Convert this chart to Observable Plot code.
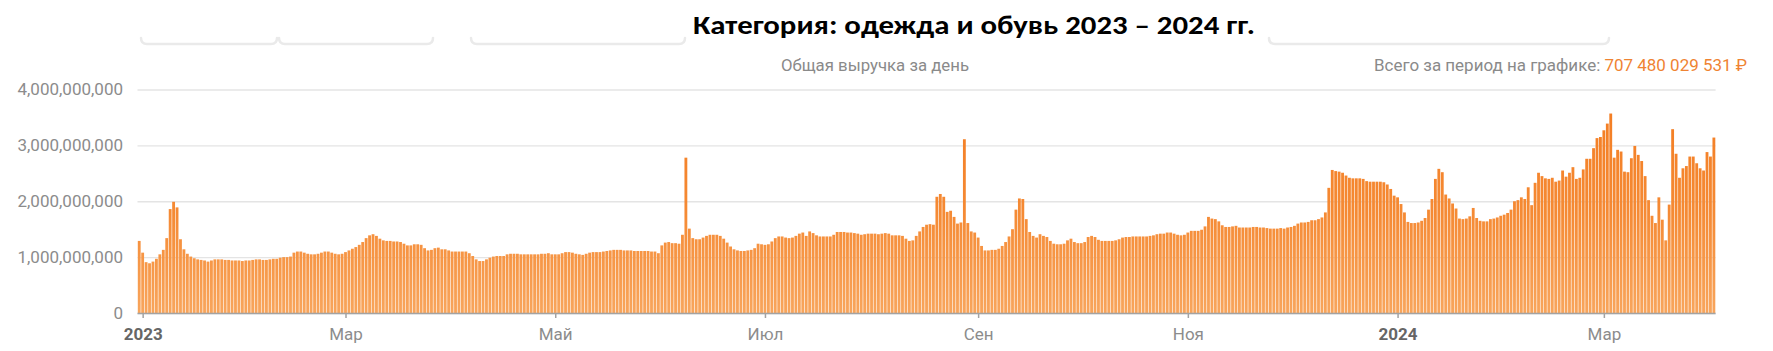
<!DOCTYPE html>
<html>
<head>
<meta charset="utf-8">
<script src="https://cdn.jsdelivr.net/npm/d3@7"></script>
<script src="https://cdn.jsdelivr.net/npm/@observablehq/plot@0.6"></script>
<style>
html, body { margin: 0; padding: 0; background: #ffffff; }
#chart { position: relative; width: 1773px; height: 351px; overflow: hidden; background: #fff; }
#chart svg { position: absolute; left: 0; top: 0; }
</style>
</head>
<body>
<div id="chart"></div>
<script>
// ---- Data (daily revenue, billions of rubles), first day = 2022-12-31 ----
const startDate = "2022-12-31";
const revenueBn = [
  1.29, 1.08, 0.91, 0.89, 0.92, 0.97, 1.05, 1.13, 1.34, 1.86,
  1.99, 1.89, 1.32, 1.14, 1.06, 1.01, 0.98, 0.96, 0.95, 0.94,
  0.92, 0.94, 0.96, 0.96, 0.96, 0.95, 0.95, 0.94, 0.94, 0.94,
  0.93, 0.94, 0.94, 0.95, 0.96, 0.96, 0.95, 0.95, 0.96, 0.97,
  0.97, 0.99, 1.00, 1.00, 1.01, 1.08, 1.10, 1.10, 1.08, 1.06,
  1.05, 1.05, 1.06, 1.08, 1.10, 1.10, 1.08, 1.06, 1.05, 1.06,
  1.09, 1.12, 1.15, 1.18, 1.22, 1.27, 1.34, 1.39, 1.41, 1.38,
  1.33, 1.30, 1.29, 1.29, 1.28, 1.28, 1.27, 1.24, 1.21, 1.21,
  1.23, 1.23, 1.22, 1.16, 1.12, 1.13, 1.16, 1.17, 1.14, 1.14,
  1.12, 1.10, 1.10, 1.10, 1.10, 1.10, 1.07, 1.02, 0.96, 0.93,
  0.93, 0.96, 0.99, 1.01, 1.02, 1.02, 1.02, 1.05, 1.06, 1.06,
  1.06, 1.05, 1.05, 1.05, 1.05, 1.05, 1.05, 1.06, 1.06, 1.07,
  1.05, 1.05, 1.05, 1.07, 1.09, 1.09, 1.08, 1.06, 1.05, 1.04,
  1.06, 1.08, 1.09, 1.09, 1.09, 1.10, 1.11, 1.12, 1.13, 1.13,
  1.13, 1.12, 1.12, 1.12, 1.11, 1.11, 1.11, 1.11, 1.11, 1.10,
  1.10, 1.07, 1.21, 1.26, 1.27, 1.25, 1.25, 1.24, 1.40, 2.78,
  1.51, 1.34, 1.32, 1.32, 1.35, 1.38, 1.40, 1.40, 1.40, 1.38,
  1.33, 1.26, 1.19, 1.14, 1.12, 1.11, 1.11, 1.12, 1.13, 1.16,
  1.24, 1.23, 1.22, 1.23, 1.28, 1.34, 1.37, 1.37, 1.35, 1.34,
  1.35, 1.38, 1.42, 1.44, 1.38, 1.46, 1.43, 1.39, 1.37, 1.37,
  1.37, 1.37, 1.40, 1.45, 1.45, 1.45, 1.44, 1.44, 1.43, 1.42,
  1.40, 1.41, 1.42, 1.42, 1.42, 1.41, 1.42, 1.43, 1.42, 1.39,
  1.39, 1.39, 1.38, 1.33, 1.29, 1.30, 1.38, 1.46, 1.54, 1.58,
  1.59, 1.58, 2.08, 2.13, 2.08, 1.81, 1.83, 1.72, 1.60, 1.62,
  3.11, 1.61, 1.46, 1.44, 1.35, 1.20, 1.12, 1.12, 1.13, 1.13,
  1.15, 1.20, 1.27, 1.37, 1.50, 1.85, 2.05, 2.04, 1.68, 1.45,
  1.38, 1.35, 1.41, 1.38, 1.36, 1.29, 1.24, 1.23, 1.23, 1.24,
  1.30, 1.33, 1.27, 1.25, 1.25, 1.27, 1.36, 1.38, 1.36, 1.31,
  1.29, 1.29, 1.29, 1.29, 1.30, 1.32, 1.35, 1.36, 1.36, 1.37,
  1.37, 1.37, 1.37, 1.37, 1.38, 1.39, 1.41, 1.42, 1.42, 1.44,
  1.44, 1.42, 1.40, 1.39, 1.40, 1.44, 1.47, 1.47, 1.47, 1.49,
  1.55, 1.72, 1.69, 1.68, 1.64, 1.57, 1.54, 1.54, 1.55, 1.56,
  1.53, 1.53, 1.53, 1.53, 1.54, 1.54, 1.53, 1.53, 1.52, 1.51,
  1.51, 1.51, 1.52, 1.51, 1.53, 1.54, 1.56, 1.60, 1.62, 1.62,
  1.63, 1.66, 1.66, 1.68, 1.71, 1.80, 2.24, 2.56, 2.54, 2.53,
  2.51, 2.46, 2.42, 2.41, 2.41, 2.41, 2.40, 2.36, 2.35, 2.35,
  2.35, 2.35, 2.34, 2.30, 2.22, 2.10, 2.07, 1.95, 1.80, 1.63,
  1.61, 1.61, 1.62, 1.65, 1.70, 1.85, 2.04, 2.40, 2.58, 2.52,
  2.12, 2.05, 1.96, 1.87, 1.69, 1.68, 1.69, 1.73, 1.88, 1.70,
  1.65, 1.64, 1.64, 1.68, 1.69, 1.71, 1.74, 1.76, 1.79, 1.85,
  2.00, 2.02, 2.07, 2.04, 2.25, 1.93, 2.33, 2.51, 2.45, 2.41,
  2.40, 2.42, 2.35, 2.37, 2.55, 2.44, 2.51, 2.61, 2.40, 2.42,
  2.57, 2.76, 2.76, 2.95, 3.13, 3.15, 3.27, 3.39, 3.57, 2.78,
  2.92, 2.89, 2.53, 2.52, 2.77, 2.99, 2.83, 2.72, 2.45, 2.02,
  1.74, 1.61, 2.07, 1.67, 1.30, 1.94, 3.29, 2.85, 2.42, 2.59,
  2.63, 2.80, 2.80, 2.68, 2.59, 2.55, 2.88, 2.80, 3.14
];
const yTicks = [0, 1000000000, 2000000000, 3000000000, 4000000000];
const xTickDates = ["2023-01-01", "2023-03-01", "2023-05-01", "2023-07-01", "2023-09-01", "2023-11-01", "2024-01-01", "2024-03-01"];
const xTickLabels = ["2023", "Мар", "Май", "Июл", "Сен", "Ноя", "2024", "Мар"];
const titleText = "Категория: одежда и обувь 2023 – 2024 гг.";
const subtitleText = "Общая выручка за день";
const totalLabel = "Всего за период на графике: ";
const totalValue = "707 480 029 531 ₽";

// ---- Build table ----
const t0 = new Date(startDate + "T00:00:00Z");
const halfDay = 12 * 3600 * 1000;
const data = revenueBn.map((v, i) => {
  const d = d3.utcDay.offset(t0, i);
  return { date: d, x1: new Date(+d - halfDay), x2: new Date(+d + halfDay), value: v * 1e9 };
});
const tickDates = xTickDates.map(s => new Date(s + "T00:00:00Z"));
const labelOf = new Map(tickDates.map((d, i) => [+d, xTickLabels[i]]));
const yearTicks = tickDates.filter((d, i) => /^\d{4}$/.test(xTickLabels[i]));
const monthTicks = tickDates.filter((d, i) => !/^\d{4}$/.test(xTickLabels[i]));

const W = 1773, H = 351;
const chart = Plot.plot({
  width: W,
  height: H,
  marginLeft: 137.5,
  marginRight: 57.4,
  marginTop: 89.5,
  marginBottom: 38,
  style: { fontFamily: "Roboto, 'Noto Sans', sans-serif", fontSize: "17px", background: "transparent", overflow: "visible" },
  x: { type: "utc", domain: [data[0].x1, data[data.length - 1].x2], axis: null },
  y: { domain: [0, 4000000000], axis: null },
  marks: [
    Plot.gridY(yTicks, { stroke: "#e4e4e4", strokeOpacity: 1, strokeWidth: 1.3 }),
    Plot.axisY(yTicks, { tickSize: 0, tickPadding: 15, tickFormat: d3.format(","), fill: "#8c8c8c", fontSize: 17, label: null }),
    Plot.rectY(data, { x1: "x1", x2: "x2", y: "value", fill: "url(#barGrad)", insetLeft: 0.3, insetRight: 0.3 }),
    Plot.ruleY([0], { stroke: "#a3a3a3", strokeWidth: 1.5 }),
    Plot.axisX(monthTicks, { tickSize: 5, tickPadding: 9, stroke: "#a3a3a3", strokeWidth: 1.5, fill: "#8c8c8c", fontSize: 17, label: null, tickFormat: d => labelOf.get(+d) }),
    Plot.axisX(yearTicks, { tickSize: 5, tickPadding: 9, stroke: "#a3a3a3", strokeWidth: 1.5, fill: "#666666", fontSize: 17, fontWeight: "bold", label: null, tickFormat: d => labelOf.get(+d) })
  ]
});

const svg = d3.select(chart);
const defs = svg.insert("defs", ":first-child");
const grad = defs.append("linearGradient")
  .attr("id", "barGrad").attr("gradientUnits", "userSpaceOnUse")
  .attr("x1", 0).attr("x2", 0).attr("y1", 89.5).attr("y2", 313);
grad.append("stop").attr("offset", "0%").attr("stop-color", "#f37b20");
grad.append("stop").attr("offset", "55%").attr("stop-color", "#f58a34");
grad.append("stop").attr("offset", "100%").attr("stop-color", "#f8a55c");

// faint UI remnants at the top
const deco = svg.append("g").attr("fill", "none").attr("stroke", "#eaeaea").attr("stroke-width", 2.5).attr("stroke-linecap", "round");
[[141, 277], [279, 433], [471, 685], [1269, 1609]].forEach(([a, b]) => {
  deco.append("path").attr("d", `M${a},38 Q${a},44 ${a + 6},44 L${b - 6},44 Q${b},44 ${b},38`);
});

const header = svg.append("g").attr("text-anchor", "start");

// title
header.append("text")
  .attr("x", 693).attr("y", 33.5)
  .attr("font-family", "Carlito, Lato, 'Open Sans', sans-serif")
  .attr("font-weight", "bold").attr("font-size", 26.5).attr("fill", "#000")
  .attr("textLength", 562).attr("lengthAdjust", "spacingAndGlyphs")
  .text(titleText);

// subtitle
header.append("text")
  .attr("x", 781).attr("y", 71)
  .attr("font-family", "Roboto, sans-serif").attr("font-size", 17).attr("fill", "#8a8a8a")
  .attr("textLength", 188).attr("lengthAdjust", "spacingAndGlyphs")
  .text(subtitleText);

// total
const tot = header.append("text")
  .attr("x", 1374).attr("y", 71)
  .attr("font-family", "Roboto, sans-serif").attr("font-size", 17)
  .attr("textLength", 373).attr("lengthAdjust", "spacingAndGlyphs");
tot.append("tspan").attr("fill", "#8a8a8a").text(totalLabel);
tot.append("tspan").attr("fill", "#ef8332").text(totalValue);

document.getElementById("chart").appendChild(chart);
</script>
</body>
</html>
